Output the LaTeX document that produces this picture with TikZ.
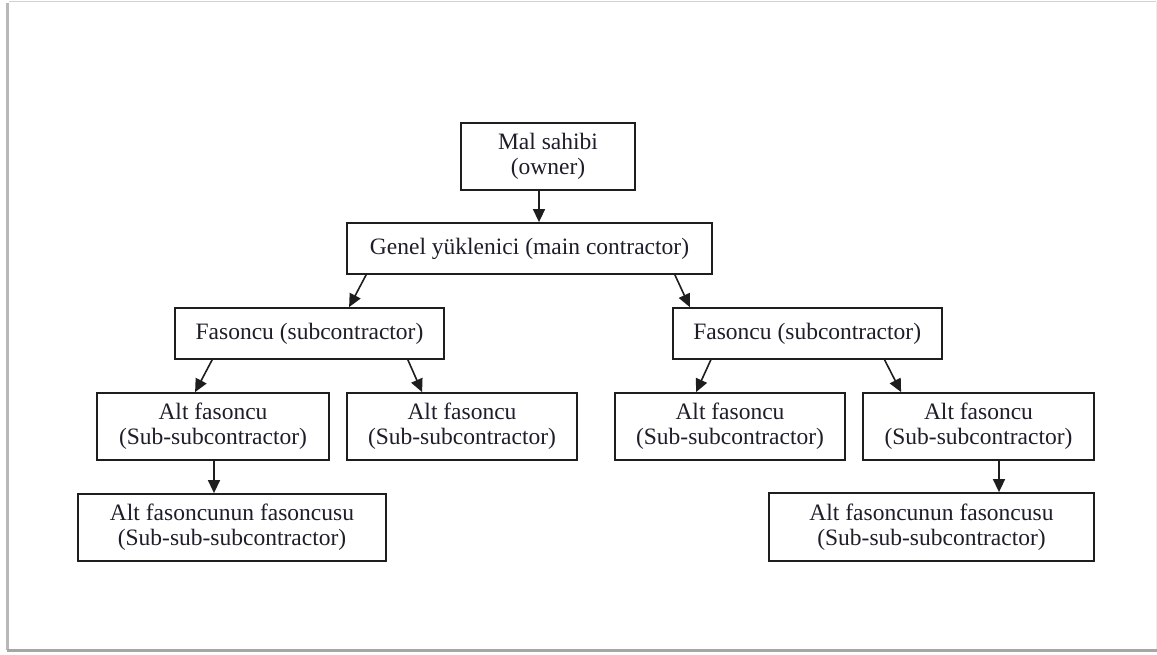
\documentclass[tikz,border=0pt]{standalone}
\usepackage{fontspec}
\setmainfont{Liberation Serif}
\usetikzlibrary{arrows.meta}
\definecolor{txt}{RGB}{30,30,42}
\definecolor{boxline}{RGB}{30,30,30}
\tikzset{
  orgbox/.style={draw=boxline, line width=1.8pt, rectangle, inner sep=0pt,
    align=center, text=txt, font=\fontsize{23.5}{25}\selectfont, anchor=center},
  arr/.style={draw=boxline, line width=1.6pt, -{Triangle[length=13pt,width=12pt]}}
}
\begin{document}
\begin{tikzpicture}[x=1pt,y=-1pt]
\useasboundingbox (0,0) rectangle (1157,654);
% frame with shadow
\fill[white] (9,1) rectangle (1156,650);
\draw[gray!35, line width=1.2pt] (9,1.5) -- (1156,1.5);
\draw[gray!15, line width=1pt] (1156,1.5) -- (1156,650);
\draw[gray!55, line width=2.5pt] (7.5,3) -- (7.5,650);
\draw[gray!70, line width=3pt] (7,650.5) -- (1157,650.5);
% boxes
\node[orgbox, minimum width=174pt, minimum height=67pt] (owner) at (548,156.5) {Mal sahibi\\(owner)};
\node[orgbox, minimum width=365pt, minimum height=51pt] (genel) at (529.5,248.5) {Genel yüklenici (main contractor)};
\node[orgbox, minimum width=269pt, minimum height=51pt] (fasL) at (309.5,333.5) {Fasoncu (subcontractor)};
\node[orgbox, minimum width=269pt, minimum height=51pt] (fasR) at (807.2,333.5) {Fasoncu (subcontractor)};
\node[orgbox, minimum width=232pt, minimum height=67pt] (altL1) at (213,426.5) {Alt fasoncu\\(Sub-subcontractor)};
\node[orgbox, minimum width=230pt, minimum height=67pt] (altL2) at (462,426.5) {Alt fasoncu\\(Sub-subcontractor)};
\node[orgbox, minimum width=230pt, minimum height=67pt] (altR1) at (730,426.5) {Alt fasoncu\\(Sub-subcontractor)};
\node[orgbox, minimum width=231pt, minimum height=67pt] (altR2) at (978.5,426.5) {Alt fasoncu\\(Sub-subcontractor)};
\node[orgbox, minimum width=308pt, minimum height=67pt] (botL) at (232,527.5) {Alt fasoncunun fasoncusu\\(Sub-sub-subcontractor)};
\node[orgbox, minimum width=325pt, minimum height=68pt] (botR) at (931.5,527) {Alt fasoncunun fasoncusu\\(Sub-sub-subcontractor)};
% connectors
\draw[arr] ([xshift=-9pt]owner.south) -- ([xshift=9.5pt]genel.north);
\draw[arr] ([xshift=20pt]genel.south west) -- ([xshift=175pt]fasL.north west);
\draw[arr] ([xshift=-38pt]genel.south east) -- ([xshift=18pt]fasR.north west);
\draw[arr] ([xshift=38pt]fasL.south west) -- ([xshift=99pt]altL1.north west);
\draw[arr] ([xshift=-37pt]fasL.south east) -- ([xshift=76pt]altL2.north west);
\draw[arr] ([xshift=39pt]fasR.south west) -- ([xshift=82pt]altR1.north west);
\draw[arr] ([xshift=-58pt]fasR.south east) -- ([xshift=39pt]altR2.north west);
\draw[arr] ([xshift=1pt]altL1.south) -- ([xshift=-18pt]botL.north);
\draw[arr] ([xshift=20.5pt]altR2.south) -- ([xshift=67.5pt]botR.north);
\end{tikzpicture}
\end{document}
